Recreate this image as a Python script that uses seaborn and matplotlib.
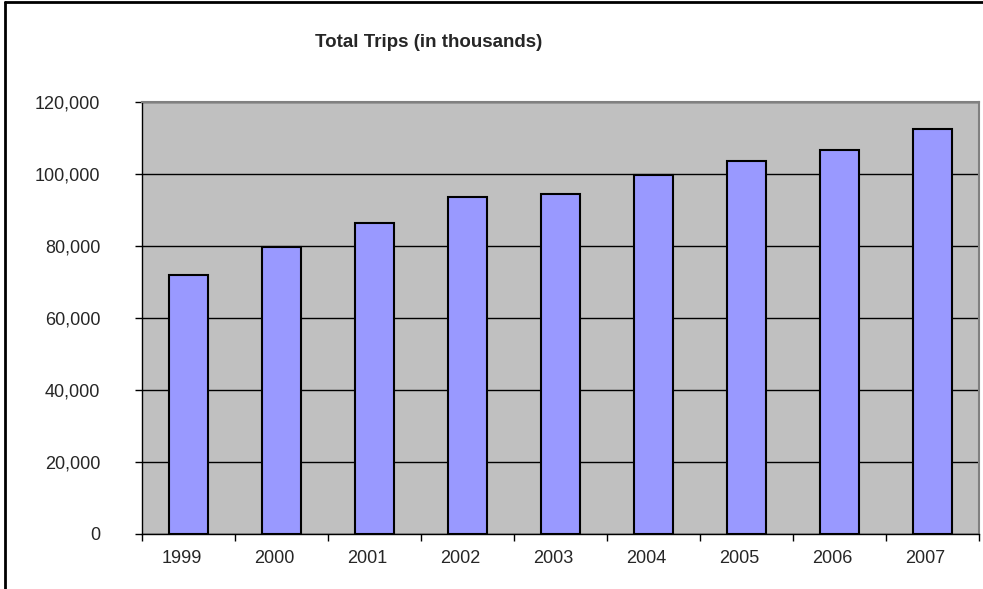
import matplotlib
matplotlib.use("Agg")
import matplotlib.pyplot as plt
import matplotlib.transforms as mtransforms
import seaborn as sns
import pandas as pd
import numpy as np
from matplotlib.ticker import FuncFormatter, FixedLocator

years = ["1999", "2000", "2001", "2002", "2003", "2004", "2005", "2006", "2007"]
trips = [71800, 79700, 86200, 93400, 94500, 99600, 103600, 106600, 112500]
yticks = [0, 20000, 40000, 60000, 80000, 100000, 120000]

df = pd.DataFrame({"year": years, "trips": trips})

sns.set_theme(style="white")
plt.rcParams['font.family'] = ['Liberation Sans', 'DejaVu Sans']

fig = plt.figure(figsize=(9.83, 5.89), dpi=100)
ax = fig.add_axes([142/983, 1 - 533.7/589, (979-142)/983, (533.7-101.7)/589])
ax.set_facecolor("#C0C0C0")

sns.barplot(data=df, x="year", y="trips", color="#9999FF", edgecolor="black",
            linewidth=1.5, width=0.42, saturation=1, ax=ax, zorder=3)

ax.set_ylim(0, 120000)
ax.set_xlim(-0.5, len(years) - 0.5)
ax.set_yticks(yticks)
ax.yaxis.set_major_formatter(FuncFormatter(lambda v, p: f"{int(v):,}"))
ax.grid(axis="y", color="black", linewidth=1, zorder=1)
ax.set_axisbelow(True)
ax.set_xlabel("")
ax.set_ylabel("")

ax.tick_params(axis="y", which="major", length=5, width=1, color="black",
               labelsize=13, pad=25, left=True, direction="out")
ax.tick_params(axis="x", which="major", length=0, labelsize=13, pad=12)
ax.xaxis.set_minor_locator(FixedLocator(np.arange(-0.5, len(years), 1.0)))
ax.tick_params(axis="x", which="minor", length=5, width=1, color="black",
               bottom=True, direction="out")

shift = mtransforms.ScaledTranslation(-7/100, 0, fig.dpi_scale_trans)
for lab in ax.get_xticklabels():
    lab.set_transform(lab.get_transform() + shift)

for s in ["left", "bottom"]:
    ax.spines[s].set_color("black")
    ax.spines[s].set_linewidth(1)
for s in ["top", "right"]:
    ax.spines[s].set_color("#808080")
    ax.spines[s].set_linewidth(1.5)

fig.text(315/983, 1 - 46.7/589, "Total Trips (in thousands)", ha="left", va="baseline",
         fontsize=13.5, fontweight="bold")

# outer chart border (left and top visible)
fig.add_artist(plt.Line2D([5/983, 5/983], [0, 1 - 2/589], color="black", linewidth=2,
                          transform=fig.transFigure))
fig.add_artist(plt.Line2D([5/983, 1], [1 - 2/589, 1 - 2/589], color="black", linewidth=2,
                          transform=fig.transFigure))

fig.savefig("out.png", dpi=100)
